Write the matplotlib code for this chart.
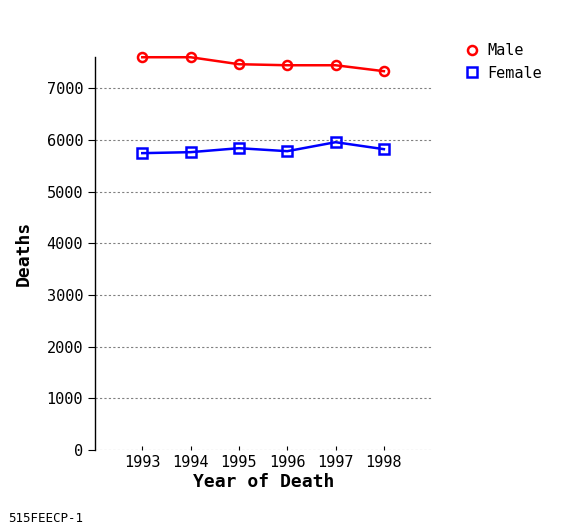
import matplotlib
matplotlib.use("Agg")
import matplotlib.pyplot as plt
from matplotlib.lines import Line2D

years = [1993, 1994, 1995, 1996, 1997, 1998]
male = [7600, 7600, 7465, 7445, 7445, 7330]
female = [5744, 5763, 5840, 5782, 5956, 5821]
yticks = [0, 1000, 2000, 3000, 4000, 5000, 6000, 7000]

plt.rcParams['font.family'] = ['DejaVu Sans Mono']

fig = plt.figure(figsize=(5.65, 5.30), dpi=100)
ax = fig.add_axes([0.168, 0.151, 0.597, 0.741])

ax.plot(years, male, color='red', lw=1.8, marker='o', ms=6.5, mfc='none', mew=1.8, clip_on=False)
ax.plot(years, female, color='blue', lw=1.8, marker='s', ms=6.5, mfc='none', mew=1.8, clip_on=False)

ax.set_xlim(1992.02, 1999.0)
ax.set_ylim(0, 7600)
ax.set_xticks(years)
ax.set_yticks(yticks)
ax.yaxis.grid(True, linestyle=(0, (2, 2)), color='gray', lw=0.8)
ax.set_axisbelow(True)
for s in ['top', 'right', 'bottom']:
    ax.spines[s].set_visible(False)
ax.spines['left'].set_linewidth(1.0)
ax.tick_params(axis='y', length=5, labelsize=11)
ax.tick_params(axis='x', length=3, direction='in', labelsize=11)

ax.set_xlabel('Year of Death', fontsize=13, fontweight='bold', labelpad=2)
ax.set_ylabel('Deaths', fontsize=13, fontweight='bold', labelpad=10)

handles = [
    Line2D([], [], ls='none', marker='o', ms=6.5, mfc='none', mec='red', mew=1.8),
    Line2D([], [], ls='none', marker='s', ms=6.5, mfc='none', mec='blue', mew=1.8),
]
fig.legend(handles, ['Male', 'Female'], loc='upper left', bbox_to_anchor=(0.797, 0.945),
           frameon=False, fontsize=11, handlelength=1.0, handletextpad=0.5, labelspacing=0.5)

fig.text(0.015, 0.015, '515FEECP-1', fontsize=9)

fig.savefig('out.png', dpi=100)
